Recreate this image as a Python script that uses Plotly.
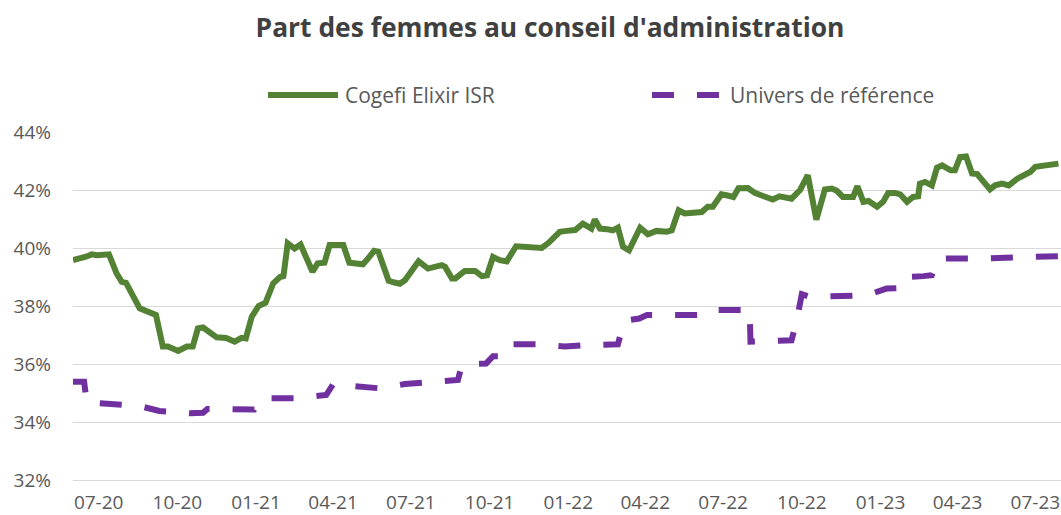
import plotly.graph_objects as go

# ---- Data ----
fund_dates = [
    "2020-06-01", "2020-06-13", "2020-06-16", "2020-06-23", "2020-06-29", "2020-07-13",
    "2020-07-22", "2020-07-28", "2020-08-02", "2020-08-18", "2020-09-06", "2020-09-14",
    "2020-09-20", "2020-10-02", "2020-10-12", "2020-10-19", "2020-10-25", "2020-10-31",
    "2020-11-08", "2020-11-16", "2020-11-27", "2020-12-07", "2020-12-15", "2020-12-20",
    "2020-12-27", "2021-01-04", "2021-01-12", "2021-01-21", "2021-01-29", "2021-02-02",
    "2021-02-07", "2021-02-15", "2021-02-22", "2021-03-08", "2021-03-14", "2021-03-22",
    "2021-03-28", "2021-04-13", "2021-04-20", "2021-05-06", "2021-05-12", "2021-05-19",
    "2021-05-24", "2021-06-05", "2021-06-12", "2021-06-18", "2021-06-24", "2021-07-10",
    "2021-07-21", "2021-07-29", "2021-08-06", "2021-08-10", "2021-08-18", "2021-08-22",
    "2021-09-02", "2021-09-14", "2021-09-22", "2021-09-28", "2021-10-05", "2021-10-13",
    "2021-10-21", "2021-11-01", "2021-11-09", "2021-12-01", "2021-12-09", "2021-12-22",
    "2021-12-30", "2022-01-09", "2022-01-18", "2022-01-28", "2022-02-01", "2022-02-07",
    "2022-02-15", "2022-02-22", "2022-02-28", "2022-03-06", "2022-03-13", "2022-03-26",
    "2022-04-04", "2022-04-14", "2022-04-26", "2022-05-02", "2022-05-10", "2022-05-17",
    "2022-06-06", "2022-06-13", "2022-06-19", "2022-06-29", "2022-07-05", "2022-07-13",
    "2022-07-19", "2022-07-30", "2022-08-07", "2022-08-28", "2022-09-05", "2022-09-19",
    "2022-09-29", "2022-10-08", "2022-10-18", "2022-10-28", "2022-11-05", "2022-11-11",
    "2022-11-18", "2022-11-30", "2022-12-05", "2022-12-12", "2022-12-18", "2022-12-28",
    "2023-01-04", "2023-01-10", "2023-01-18", "2023-01-24", "2023-02-01", "2023-02-08",
    "2023-02-14", "2023-02-16", "2023-02-22", "2023-03-02", "2023-03-08", "2023-03-14",
    "2023-03-24", "2023-03-29", "2023-04-04", "2023-04-11", "2023-04-18", "2023-04-24",
    "2023-05-09", "2023-05-15", "2023-05-23", "2023-05-31", "2023-06-10", "2023-06-25",
    "2023-07-01", "2023-07-07", "2023-07-15", "2023-07-28",
]
fund_values = [
    39.58, 39.72, 39.70, 39.78, 39.75, 39.78,
    39.12, 38.83, 38.80, 37.92, 37.69, 36.60,
    36.60, 36.45, 36.60, 36.60, 37.23, 37.26,
    37.11, 36.92, 36.90, 36.77, 36.90, 36.88,
    37.63, 38.00, 38.11, 38.78, 39.00, 39.03,
    40.16, 39.98, 40.12, 39.18, 39.47, 39.49,
    40.10, 40.10, 39.49, 39.44, 39.64, 39.90,
    39.87, 38.87, 38.81, 38.77, 38.89, 39.54,
    39.29, 39.35, 39.41, 39.35, 38.95, 38.95,
    39.21, 39.21, 39.03, 39.06, 39.69, 39.58,
    39.54, 40.06, 40.04, 40.00, 40.18, 40.56,
    40.59, 40.62, 40.84, 40.67, 40.98, 40.67,
    40.65, 40.61, 40.70, 40.04, 39.92, 40.70,
    40.47, 40.59, 40.56, 40.61, 41.30, 41.19,
    41.24, 41.42, 41.42, 41.85, 41.82, 41.76,
    42.06, 42.07, 41.90, 41.67, 41.78, 41.70,
    42.00, 42.51, 40.98, 42.02, 42.05, 41.97,
    41.76, 41.76, 42.13, 41.59, 41.62, 41.42,
    41.59, 41.90, 41.90, 41.85, 41.59, 41.76,
    41.78, 42.22, 42.28, 42.16, 42.77, 42.85,
    42.68, 42.68, 43.14, 43.16, 42.57, 42.55,
    42.02, 42.16, 42.22, 42.16, 42.39, 42.62,
    42.80, 42.82, 42.88, 42.91,
]

bench_dates = [
    "2020-06-01", "2020-06-14", "2020-06-17", "2020-07-26", "2020-08-18", "2020-09-10",
    "2020-09-17", "2020-10-16", "2020-10-31", "2020-11-05", "2020-12-30", "2021-01-08",
    "2021-02-17", "2021-03-16", "2021-03-24", "2021-04-01", "2021-05-01", "2021-05-26",
    "2021-06-24", "2021-07-19", "2021-08-18", "2021-08-25", "2021-08-29", "2021-09-04",
    "2021-09-27", "2021-10-05", "2021-10-15", "2021-10-22", "2021-12-02", "2021-12-28",
    "2022-01-22", "2022-02-20", "2022-02-28", "2022-03-04", "2022-03-09", "2022-03-25",
    "2022-04-03", "2022-06-10", "2022-06-19", "2022-07-07", "2022-08-01", "2022-08-02",
    "2022-08-21", "2022-09-19", "2022-09-25", "2022-10-01", "2022-10-10", "2022-10-24",
    "2022-11-22", "2022-12-16", "2023-01-08", "2023-01-30", "2023-01-31", "2023-02-04",
    "2023-02-20", "2023-03-02", "2023-03-07", "2023-03-11", "2023-04-29", "2023-05-28",
    "2023-06-23", "2023-07-22", "2023-07-28",
]
bench_values = [
    35.39, 35.39, 34.68, 34.62, 34.55, 34.38,
    34.36, 34.30, 34.32, 34.45, 34.43, 34.82,
    34.82, 34.87, 34.93, 35.30, 35.22, 35.16,
    35.31, 35.35, 35.42, 35.45, 35.90, 36.00,
    36.02, 36.27, 36.27, 36.68, 36.68, 36.60,
    36.65, 36.68, 36.68, 37.11, 37.50, 37.57,
    37.69, 37.69, 37.86, 37.86, 37.86, 36.77,
    36.77, 36.82, 37.50, 38.41, 38.32, 38.32,
    38.34, 38.37, 38.60, 38.63, 38.75, 39.00,
    39.03, 39.06, 39.49, 39.64, 39.64, 39.67,
    39.66, 39.72, 39.72,
]

series_names = ["Cogefi Elixir ISR", "Univers de référence"]
y_ticks = [32, 34, 36, 38, 40, 42, 44]
y_tick_labels = ["32%", "34%", "36%", "38%", "40%", "42%", "44%"]

GREEN = "#548235"
PURPLE = "#7030A0"
GRID = "#D9D9D9"
TXT = "#595959"
FONT = "Open Sans"

W, H = 1061, 515
L, R, T, B = 73, 0, 132, 35
pw, ph = W - L - R, H - T - B

fig = go.Figure()
fig.add_trace(go.Scatter(
    x=fund_dates, y=fund_values, mode="lines", name=series_names[0],
    line=dict(color=GREEN, width=6), showlegend=False,
))
fig.add_trace(go.Scatter(
    x=bench_dates, y=bench_values, mode="lines", name=series_names[1],
    line=dict(color=PURPLE, width=6, dash="22px,23px"), showlegend=False,
))


def px_x(p):
    # page pixel -> paper x
    return (p - L) / pw


def px_y(p):
    # page pixel -> paper y
    return (H - B - p) / ph


# Legend drawn above the plot area (long line samples like the original)
leg_y = px_y(95)
fig.add_shape(type="line", xref="paper", yref="paper",
              x0=px_x(268), x1=px_x(338), y0=leg_y, y1=leg_y,
              line=dict(color=GREEN, width=6))
fig.add_shape(type="line", xref="paper", yref="paper",
              x0=px_x(652), x1=px_x(722), y0=leg_y, y1=leg_y,
              line=dict(color=PURPLE, width=6, dash="22px,23px"))
fig.add_annotation(xref="paper", yref="paper", x=px_x(343), y=leg_y,
                   text=series_names[0], showarrow=False, xanchor="left", yanchor="middle",
                   font=dict(family=FONT, size=21, color=TXT))
fig.add_annotation(xref="paper", yref="paper", x=px_x(728), y=leg_y,
                   text=series_names[1], showarrow=False, xanchor="left", yanchor="middle",
                   font=dict(family=FONT, size=21, color=TXT))

fig.update_layout(
    width=W, height=H,
    margin=dict(l=L, r=R, t=T, b=B, autoexpand=False),
    paper_bgcolor="white", plot_bgcolor="white",
    title=dict(text="<b>Part des femmes au conseil d'administration</b>",
               x=550 / W, xanchor="center", xref="container",
               y=1 - 28 / H, yanchor="middle", yref="container",
               font=dict(family=FONT, size=26.4, color="#404040")),
    showlegend=False,
    font=dict(family=FONT, color=TXT),
)
fig.update_xaxes(
    type="date", range=["2020-06-01", "2023-07-31"],
    dtick="M3", tick0="2020-07-01", tickformat="%m-%y",
    showgrid=False, zeroline=False,
    showline=True, linecolor=GRID, linewidth=1.3,
    ticks="", tickfont=dict(family=FONT, size=19, color=TXT),
    ticklabelstandoff=5, automargin=False,
)
fig.update_yaxes(
    range=[32, 44], tickvals=y_ticks, ticktext=y_tick_labels,
    showgrid=True, gridcolor=GRID, gridwidth=1.3, zeroline=False,
    showline=False, ticks="",
    tickfont=dict(family=FONT, size=19, color=TXT),
    ticklabelstandoff=21, automargin=False,
)

# Remove the browser's default page margin so the figure fills the window exactly.
fig.write_html(
    "out.html",
    config={"displayModeBar": False},
    post_script="document.body.style.margin='0';document.body.style.overflow='hidden';",
)
